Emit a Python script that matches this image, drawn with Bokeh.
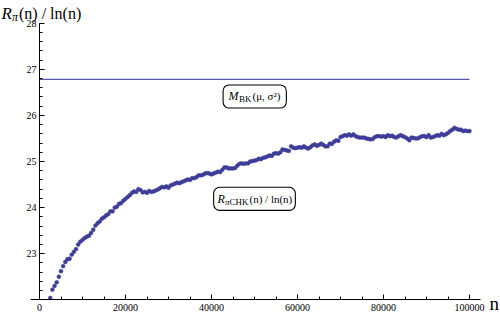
from bokeh.plotting import figure
from bokeh.models import Range1d, Label, BoxAnnotation, FixedTicker, NumeralTickFormatter
from bokeh.embed import file_html
from bokeh.resources import INLINE

# R_pi CHK(n) / ln(n), sampled every 500 from n = 2500
ratio = [
    22.04, 22.22, 22.30, 22.38, 22.50, 22.62, 22.73, 22.82, 22.88, 22.89,
    22.98, 23.04, 23.10, 23.20, 23.26, 23.30, 23.34, 23.37, 23.39, 23.45,
    23.52, 23.61, 23.66, 23.70, 23.76, 23.79, 23.83, 23.86, 23.92, 23.92,
    24.00, 24.02, 24.08, 24.10, 24.15, 24.19, 24.23, 24.27, 24.32, 24.35,
    24.34, 24.40, 24.38, 24.33, 24.34, 24.32, 24.36, 24.34, 24.35, 24.37,
    24.39, 24.42, 24.45, 24.44, 24.46, 24.43, 24.48, 24.50, 24.52, 24.54,
    24.53, 24.55, 24.57, 24.59, 24.61, 24.60, 24.64, 24.64, 24.66, 24.70,
    24.70, 24.71, 24.74, 24.75, 24.74, 24.72, 24.74, 24.76, 24.78, 24.77,
    24.82, 24.87, 24.87, 24.85, 24.85, 24.85, 24.86, 24.91, 24.95, 24.96,
    24.95, 24.96, 24.96, 25.00, 25.01, 25.02, 25.03, 25.06, 25.05, 25.08,
    25.09, 25.11, 25.13, 25.12, 25.17, 25.18, 25.17, 25.20, 25.26, 25.25,
    25.24, 25.23, 25.33, 25.30, 25.29, 25.30, 25.31, 25.30, 25.33, 25.30,
    25.28, 25.31, 25.35, 25.37, 25.34, 25.36, 25.39, 25.36, 25.33, 25.33,
    25.39, 25.38, 25.43, 25.46, 25.45, 25.53, 25.55, 25.57, 25.56, 25.59,
    25.56, 25.59, 25.55, 25.53, 25.52, 25.52, 25.52, 25.50, 25.49, 25.48,
    25.49, 25.53, 25.55, 25.55, 25.54, 25.55, 25.53, 25.57, 25.55, 25.56,
    25.53, 25.52, 25.55, 25.57, 25.55, 25.53, 25.50, 25.46, 25.52, 25.51,
    25.50, 25.50, 25.53, 25.55, 25.55, 25.53, 25.57, 25.52, 25.53, 25.55,
    25.57, 25.56, 25.60, 25.57, 25.59, 25.62, 25.66, 25.69, 25.73, 25.71,
    25.69, 25.69, 25.66, 25.67, 25.66, 25.66,
]
n_start = 2500
n_step = 500
n_values = [n_start + n_step * i for i in range(len(ratio))]

mbk_value = 26.78
mbk_n = [0, 100000]

x_ticks = [0, 20000, 40000, 60000, 80000, 100000]
x_minor = [5000 * i for i in range(21)]
y_ticks = [23, 24, 25, 26, 27, 28]
y_minor = [round(22 + 0.2 * i, 1) for i in range(31)]

SERIF = "Liberation Serif"
DOT = "#3d3d99"

W, H = 500, 314
# layout: canvas pixel -> data helpers
X0_PX, X_PX_PER_UNIT = 39.0, 0.0043
Y28_PX, Y_PX_PER_UNIT = 22.7, (299.3 - 22.7) / 6.0


def dx(px):
    return (px - X0_PX) / X_PX_PER_UNIT


def dy(py):
    return 28 - (py - Y28_PX) / Y_PX_PER_UNIT


p = figure(width=W, height=H, output_backend="svg", toolbar_location=None,
           x_range=Range1d(dx(0), dx(W)), y_range=Range1d(dy(H), dy(0)),
           min_border_left=0, min_border_right=0, min_border_top=0,
           min_border_bottom=0)
p.outline_line_color = None
p.grid.visible = False
p.background_fill_color = "white"

p.line(mbk_n, [mbk_value, mbk_value], line_color="#5656aa", line_width=1.3)
p.scatter(n_values, ratio, size=3.8, fill_color=DOT, line_color=DOT, line_width=0.6)

for ax in (p.xaxis, p.yaxis):
    ax.axis_line_color = "black"
    ax.major_tick_line_color = "black"
    ax.minor_tick_line_color = "black"
    ax.major_tick_in = 5
    ax.major_tick_out = 0
    ax.minor_tick_in = 3
    ax.minor_tick_out = 0
    ax.major_label_text_font = SERIF
    ax.major_label_text_font_size = "10px"
    ax.major_label_text_color = "black"

p.xaxis.fixed_location = 22
p.yaxis.fixed_location = 0
p.xaxis.bounds = (dx(30), dx(480))
p.yaxis.bounds = (22, 28)
p.xaxis.ticker = FixedTicker(ticks=x_ticks, minor_ticks=x_minor)
p.yaxis.ticker = FixedTicker(ticks=y_ticks, minor_ticks=y_minor)
p.xaxis.formatter = NumeralTickFormatter(format="0")
p.xaxis.major_label_standoff = 4
p.yaxis.major_label_standoff = 3

# annotation boxes
box_style = dict(fill_color="white", fill_alpha=1, line_color="black",
                 line_alpha=1, line_width=1.1, border_radius=6)
p.add_layout(BoxAnnotation(left=42700, right=57400, bottom=26.16, top=26.66, **box_style))
p.add_layout(BoxAnnotation(left=40500, right=59500, bottom=23.94, top=24.44, **box_style))


def lab(x, y, text, size, style="normal", baseline="middle"):
    p.add_layout(Label(x=x, y=y, text=text, text_font=SERIF, text_font_size=size,
                       text_font_style=style, text_baseline=baseline,
                       text_align="left", text_color="black"))


# M_BK(mu, sigma^2)
lab(43950, 26.41, "M", "12px", "italic")
lab(46400, 26.35, "BK", "9px")
lab(49530, 26.41, "(μ, σ²)", "11px")

# R_piCHK(n) / ln(n)
lab(41400, 24.19, "R", "12px", "italic")
lab(43140, 24.12, "π", "9px", "italic")
lab(44190, 24.12, "CHK", "9px")
lab(48840, 24.19, "(n) / ln(n)", "11px")

# axis titles
lab(dx(1), dy(13), "R", "17px", "italic", "alphabetic")
lab(dx(11.5), dy(16), "π", "12px", "italic", "alphabetic")
lab(dx(18.5), dy(13), "(n) / ln(n)", "16px", "normal", "alphabetic")
lab(dx(489), dy(303), "n", "19px", "normal", "alphabetic")

open("out.html", "w").write(file_html(p, INLINE))
